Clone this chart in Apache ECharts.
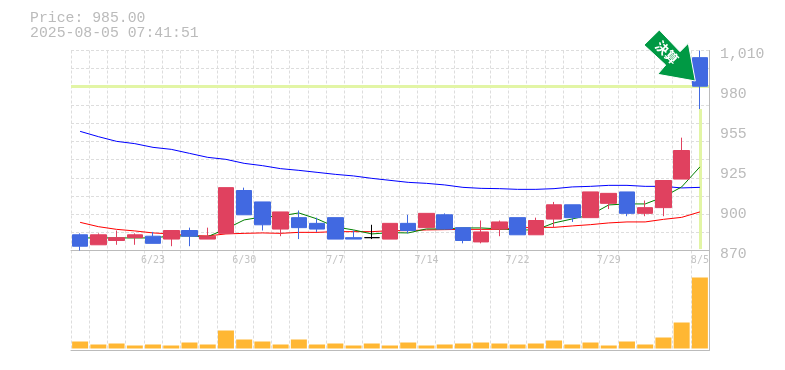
<!DOCTYPE html>
<html>
<head>
<meta charset="utf-8">
<style>html,body{margin:0;padding:0;background:#fff}#c{width:785px;height:370px}</style>
<script src="https://cdn.jsdelivr.net/npm/echarts@6/dist/echarts.min.js"></script>
</head>
<body>
<div id="c"></div>
<script>
const titlePrice = 'Price: 985.00';
const titleTime = '2025-08-05 07:41:51';
const badgeText = '決算';
const currentPrice = 985;
const dates = ['6/17','6/18','6/19','6/20','6/23','6/24','6/25','6/26','6/27','6/30','7/1','7/2','7/3','7/4','7/7','7/8','7/9','7/10','7/11','7/14','7/15','7/16','7/17','7/18','7/22','7/23','7/24','7/25','7/28','7/29','7/30','7/31','8/1','8/4','8/5'];
// open, close, low, high
const candles = [
[881,873,870,882],[874,881,874,882],[877,879,874,884],[879,881,874,882],[880,875,875,883],
[878,884,873,884],[884,880,873,886],[878,880,878,886],[882,914,882,914],[912,895,895,914],
[904,888,884,904],[885,897,880,897],[893,886,878,898],[889,885,883,893],[893,878,878,893],
[879,878,878,884],[879,879,878,888],[878,889,878,889],[889,884,882,895],[886,896,886,896],
[895,885,885,896],[886,877,875,886],[876,883,875,891],[885,890,880,891],[893,881,881,893],
[881,891,881,893],[892,902,886,904],[902,893,890,902],[893,911,893,911],[903,910,899,910],
[911,896,894,911],[896,900,894,905],[900,919,894,919],[920,940,920,949],[1005,985,969,1010]];
const maShort = [878.8,878.8,878.8,878.8,878.8,880.2,880.2,879.7,885.1,891.4,893.5,894.2,896.3,892.1,886.5,884.4,881.6,882.5,882.3,885.1,885.1,885.8,885.8,885.1,884.4,884.4,889.3,892.1,894.9,901.9,902.6,902.6,907.5,914.5,928.5];
const maMid = [953.4,949.7,946.4,944.8,942.2,940.8,938,935.2,933.8,931,929.4,927.3,926.1,924.7,923.3,922.2,920.5,919.1,917.7,917,915.9,914.2,913.5,913.3,912.8,912.8,913.3,914.5,914.9,915.6,915.6,914.9,914.9,913.8,914.2];
const maLong = [889.7,886.7,884.8,883.7,882.3,881.6,880.4,880.2,881.6,882,882.3,882,882.7,882.7,883.2,883.2,883.2,883.9,883.9,884.4,884.6,884.8,884.8,884.8,885.8,886.2,886.2,887.2,888.1,889.3,890,890,891.8,893.2,897];
const volumes = [7,4,5,3,4,3,6,4,18,9,7,4,9,4,5,3,5,3,6,3,4,5,6,5,4,5,8,4,6,3,7,4,11,26,71];

const GREY = '#bbbbbb', GRID = '#dddddd', GUIDE = '#e2f5a5';
const MONO = '"Liberation Mono", monospace';
const dashed = {show:true, lineStyle:{color:GRID, width:1, type:[3,2]}};
const last = dates[dates.length-1];
const lastLow = candles[candles.length-1][2];

const chart = echarts.init(document.getElementById('c'), null, {renderer:'canvas'});
chart.setOption({
  animation:false,
  backgroundColor:'#fff',
  title:{left:25, top:6, text:titlePrice+'\n'+titleTime, textStyle:{fontFamily:MONO, fontSize:14.8, fontWeight:'normal', color:GREY, lineHeight:15}},
  grid:[
    {left:71, width:638, top:50.5, height:200},
    {left:71, width:638, top:250.5, height:100}
  ],
  xAxis:[
    {type:'category', gridIndex:0, data:dates, boundaryGap:true,
     axisLine:{show:true, onZero:false, lineStyle:{color:GREY, width:1}}, axisTick:{show:false},
     axisLabel:{interval:(i)=>i%5===4, fontFamily:'"DejaVu Sans Mono", monospace', fontSize:10, color:'#c4c4c4', margin:5},
     splitLine:Object.assign({interval:0}, dashed)},
    {type:'category', gridIndex:1, data:dates, boundaryGap:true,
     axisLine:{show:true, onZero:false, lineStyle:{color:GREY, width:1}}, axisTick:{show:false}, axisLabel:{show:false},
     splitLine:Object.assign({interval:0}, dashed)}
  ],
  yAxis:[
    {type:'value', gridIndex:0, position:'right', min:870, max:1010, interval:28,
     axisLine:{show:true, lineStyle:{color:GREY, width:1}}, axisTick:{show:false}, splitLine:{show:false},
     axisLabel:{margin:11, fontFamily:MONO, fontSize:14.8, color:GREY, verticalAlign:'top', lineHeight:8,
       formatter:(v)=>(Math.round(v/5)*5).toLocaleString('en-US')}},
    {type:'value', gridIndex:0, position:'left', min:0, max:11, interval:1, axisLine:{show:false}, axisTick:{show:false}, axisLabel:{show:false}, splitLine:dashed},
    {type:'value', gridIndex:1, position:'right', min:-2, max:98, axisLine:{show:true, lineStyle:{color:GREY, width:1}}, axisTick:{show:false}, axisLabel:{show:false}, splitLine:{show:false}}
  ],
  series:[
    {type:'line', name:'guide', xAxisIndex:0, yAxisIndex:0, data:[], z:1, silent:true,
     markLine:{silent:true, z:1, symbol:'none', animation:false, label:{show:false},
       lineStyle:{color:GUIDE, width:3, type:'solid'},
       data:[{yAxis:currentPrice},[{coord:[last,871]},{coord:[last,lastLow]}]]}},
    {type:'line', name:'long', data:maLong, xAxisIndex:0, yAxisIndex:0, symbol:'none', z:2, lineStyle:{color:'#ff0000', width:1}},
    {type:'line', name:'mid', data:maMid, xAxisIndex:0, yAxisIndex:0, symbol:'none', z:2, lineStyle:{color:'#0000ff', width:1}},
    {type:'line', name:'short', data:maShort, xAxisIndex:0, yAxisIndex:0, symbol:'none', z:2, lineStyle:{color:'#008000', width:1}},
    {type:'candlestick', data:candles, xAxisIndex:0, yAxisIndex:0, barWidth:16, z:3,
     itemStyle:{color:'#e0415f', color0:'#4169e1', borderColor:'#e0415f', borderColor0:'#4169e1', borderColorDoji:'#000000', borderWidth:1}},
    {type:'bar', data:volumes, xAxisIndex:1, yAxisIndex:2, barWidth:16, itemStyle:{color:'#ffb733'}}
  ],
  graphic:[
    {type:'polygon', z:100, shape:{points:[[659.3,30],[644,45],[665.7,65],[657.7,74.3],[695.3,81],[688.3,43.3],[680,51.7]]},
     style:{fill:'#009944', stroke:'#ffffff', lineWidth:1}},
    {type:'text', z:101, x:667, y:52.5, rotation:-Math.PI/4,
     style:{text:badgeText, fill:'#ffffff', font:'bold 13px "Noto Sans CJK JP"', align:'center', verticalAlign:'middle'}}
  ]
});
</script>
</body>
</html>
